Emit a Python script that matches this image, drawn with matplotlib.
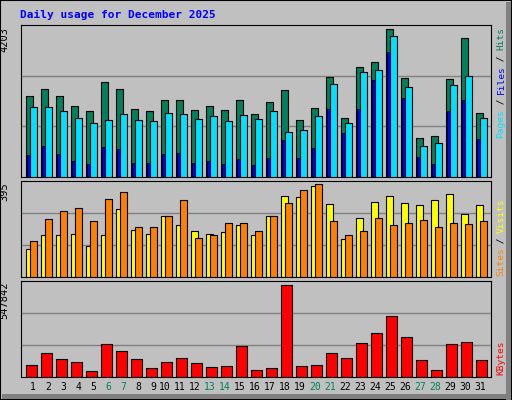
import numpy as np
import matplotlib.pyplot as plt
from matplotlib.patches import Rectangle

days = list(range(1, 32))
weekends = [6, 7, 13, 14, 20, 21, 27, 28]

hits = [2292, 2492, 2292, 2035, 1892, 2691, 2492, 1949, 1892, 2206, 2178, 1921, 2035, 1921, 2206, 1807,
        2121, 2463, 1636, 1978, 2834, 1693, 3119, 3262, 4203, 2805, 1122, 1179, 2777, 3947, 1835]
files = [2006, 2006, 1892, 1693, 1550, 1636, 1807, 1636, 1607, 1835, 1807, 1664, 1750, 1607, 1778, 1664,
         1892, 1293, 1350, 1750, 2634, 1550, 2977, 3034, 4004, 2549, 894, 980, 2606, 2862, 1693]
pages = [637, 894, 666, 466, 380, 865, 808, 409, 409, 666, 694, 409, 466, 380, 523, 352,
         552, 1065, 552, 837, 1949, 1265, 1949, 2748, 3547, 2263, 580, 380, 1892, 2206, 1094]
sites = [121, 177, 177, 185, 130, 177, 288, 202, 185, 262, 220, 194, 185, 190, 220, 177,
         258, 344, 339, 386, 309, 164, 250, 318, 344, 314, 305, 327, 352, 267, 305]
visits = [155, 245, 280, 292, 237, 331, 361, 215, 211, 258, 327, 168, 177, 228, 228, 198,
          262, 314, 369, 395, 237, 177, 198, 250, 220, 232, 241, 215, 232, 224, 237]
kbytes = [74000, 140000, 104000, 92000, 38000, 194000, 152000, 104000, 56000, 92000, 110000, 86000,
          62000, 68000, 182000, 44000, 56000, 547842, 68000, 74000, 140000, 110000, 200000, 260000,
          362000, 236000, 98000, 44000, 194000, 206000, 98000]

BG = '#C0C0C0'
GREEN = '#00805C'
CYAN = '#00E0FF'
BLUE = '#0000FF'
YELLOW = '#FFFF00'
ORANGE = '#FF8000'
RED = '#FF0000'
MONO = 'DejaVu Sans Mono'

W, H = 512, 400
fig = plt.figure(figsize=(W / 100, H / 100), dpi=100)
fig.patch.set_facecolor(BG)

# frame with shading
fig.patches.append(Rectangle((0, 0), 1, 1, transform=fig.transFigure, fill=False, ec='black', lw=1.5))
fig.patches.append(Rectangle((506 / W, 0), 5 / W, 1 - 2 / H, transform=fig.transFigure, fc='#808080', ec='none'))
fig.patches.append(Rectangle((2 / W, 1 / H), 1 - 4 / W, 5 / H, transform=fig.transFigure, fc='#808080', ec='none'))


def px_axes(x0, y0, x1, y1):
    return fig.add_axes([x0 / W, 1 - y1 / H, (x1 - x0) / W, (y1 - y0) / H])


x = np.arange(31)
xl = (-0.33, 31.0)


def style(ax, ymax, label):
    ax.set_facecolor(BG)
    ax.set_xlim(*xl)
    ax.set_ylim(0, ymax)
    ax.set_xticks([])
    ax.set_yticks([])
    for g in (ymax / 3, ymax * 2 / 3):
        ax.axhline(g, color='#808080', lw=1, zorder=0)
    for s in ax.spines.values():
        s.set_color('black')
    ax.text(-0.035, 0.99, label, transform=ax.transAxes, rotation=90, ha='center', va='top',
            family=MONO, fontsize=7.5)


# top panel
ax1 = px_axes(20.7, 25, 490.7, 177)
style(ax1, 4327, '4203')
ax1.bar(x, hits, width=0.47, align='edge', color=GREEN, ec='black', lw=0.8, zorder=2)
ax1.bar(x + 0.27, files, width=0.47, align='edge', color=CYAN, ec='black', lw=0.8, zorder=3)
ax1.bar(x + 0.09, pages, width=0.18, align='edge', color=BLUE, ec='black', lw=0.6, zorder=4)

# middle panel
ax2 = px_axes(20.7, 181, 490.7, 277)
style(ax2, 409, '395')
ax2.bar(x, sites, width=0.5, align='edge', color=YELLOW, ec='black', lw=0.8, zorder=2)
ax2.bar(x + 0.27, visits, width=0.47, align='edge', color=ORANGE, ec='black', lw=0.8, zorder=3)

# bottom panel
ax3 = px_axes(20.7, 281, 490.7, 377)
style(ax3, 569830, '547842')
ax3.bar(x + 0.04, kbytes, width=0.69, align='edge', color=RED, ec='black', lw=0.8, zorder=2)

for d in days:
    off = 0.5 if d < 10 else 0.3
    ax3.text(d - 1 + off, -0.1, str(d), transform=ax3.get_xaxis_transform(), ha='center', va='center',
             family=MONO, fontsize=7, color=GREEN if d in weekends else 'black')

fig.text(20 / W, 1 - 15 / H, 'Daily usage for December 2025', color=BLUE, family=MONO,
         fontsize=8, fontweight='bold', va='center')


def side_label(parts, y_top, xpx=501, step=5.45):
    # parts listed top to bottom (text reads bottom-up)
    y = y_top
    for txt, col in parts:
        n = len(txt)
        fig.text(xpx / W, 1 - (y + n * step / 2) / H, txt, rotation=90, color=col, family=MONO,
                 fontsize=6.8, ha='center', va='center')
        y += n * step


side_label([('Hits', GREEN), (' / ', 'black'), ('Files', BLUE), (' / ', 'black'), ('Pages', CYAN)], 28)
side_label([('Visits', YELLOW), (' / ', 'black'), ('Sites', ORANGE)], 199)
side_label([('KBytes', RED)], 341)

fig.savefig('out.png', dpi=100, facecolor=BG)
